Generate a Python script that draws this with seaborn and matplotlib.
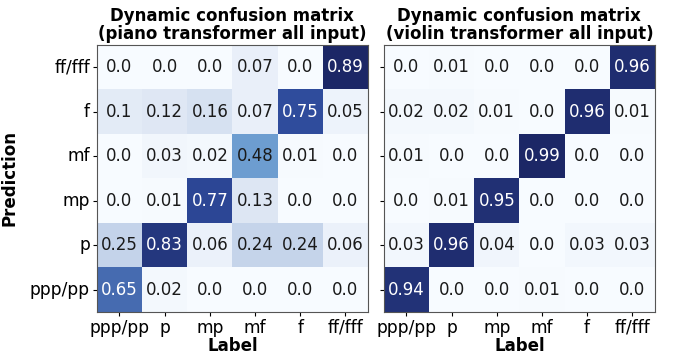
import numpy as np
import matplotlib
matplotlib.use("Agg")
import matplotlib.pyplot as plt
import seaborn as sns
from matplotlib.colors import LinearSegmentedColormap

rows = ["ff/fff", "f", "mf", "mp", "p", "ppp/pp"]
cols = ["ppp/pp", "p", "mp", "mf", "f", "ff/fff"]

piano = [
    [0.0, 0.0, 0.0, 0.07, 0.0, 0.89],
    [0.1, 0.12, 0.16, 0.07, 0.75, 0.05],
    [0.0, 0.03, 0.02, 0.48, 0.01, 0.0],
    [0.0, 0.01, 0.77, 0.13, 0.0, 0.0],
    [0.25, 0.83, 0.06, 0.24, 0.24, 0.06],
    [0.65, 0.02, 0.0, 0.0, 0.0, 0.0],
]
violin = [
    [0.0, 0.01, 0.0, 0.0, 0.0, 0.96],
    [0.02, 0.02, 0.01, 0.0, 0.96, 0.01],
    [0.01, 0.0, 0.0, 0.99, 0.0, 0.0],
    [0.0, 0.01, 0.95, 0.0, 0.0, 0.0],
    [0.03, 0.96, 0.04, 0.0, 0.03, 0.03],
    [0.94, 0.0, 0.0, 0.01, 0.0, 0.0],
]
titles = ["Dynamic confusion matrix\n(piano transformer all input)",
          "Dynamic confusion matrix\n(violin transformer all input)"]

cmap = LinearSegmentedColormap.from_list(
    "navyblues",
    [(0.0, "#f7fbff"), (0.15, "#dce5f3"), (0.3, "#c0d0e8"),
     (0.55, "#6a9bcf"), (0.85, "#2e4a9b"), (1.0, "#1c2766")])

plt.rcParams["font.family"] = ["DejaVu Sans"]
fig, axes = plt.subplots(1, 2, figsize=(6.73, 3.56), dpi=100)
fig.subplots_adjust(left=0.144, right=0.973, top=0.874, bottom=0.124, wspace=0.059)

for i, (ax, data, title) in enumerate(zip(axes, [piano, violin], titles)):
    arr = np.array(data)
    annot = np.array([[str(v) for v in r] for r in data])
    sns.heatmap(arr, ax=ax, cmap=cmap, annot=annot, fmt="", cbar=False,
                square=False, xticklabels=cols,
                yticklabels=rows if i == 0 else False,
                annot_kws={"fontsize": 12})
    vmax = arr.max()
    for t, v in zip(ax.texts, arr.flatten()):
        t.set_color("white" if v / vmax > 0.6 else "#1a1a1a")
    for s in ax.spines.values():
        s.set_visible(True)
        s.set_color("#555555")
        s.set_linewidth(0.8)
    ax.set_title(title, fontsize=12, fontweight="bold", pad=4, linespacing=1.0)
    ax.set_xlabel("Label", fontsize=12, fontweight="bold", labelpad=0)
    ax.tick_params(axis="both", labelsize=12.3, length=3, pad=2)
    ax.tick_params(axis="x", rotation=0)
    if i == 0:
        ax.set_ylabel("Prediction", fontsize=12, fontweight="bold", labelpad=8)
        ax.tick_params(axis="y", rotation=0)
    else:
        ax.set_yticks(np.arange(6) + 0.5)
        ax.set_yticklabels([])

fig.savefig("out.png", dpi=100)
